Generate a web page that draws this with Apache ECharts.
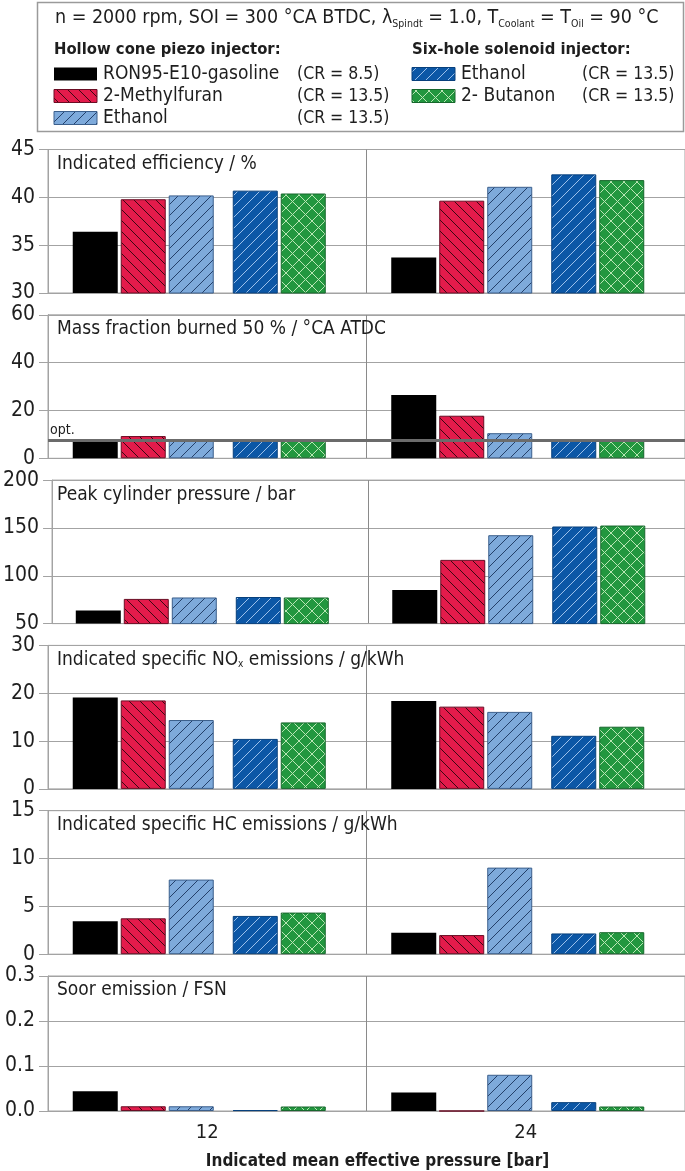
<!DOCTYPE html>
<html><head><meta charset="utf-8">
<script src="https://cdn.jsdelivr.net/npm/echarts@6/dist/echarts.min.js"></script>
<style>html,body{margin:0;padding:0;background:#fff}#c{width:685px;height:1171px}</style>
</head><body><div id="c"></div>
<script>
// ---------- data ----------
const categories = ['12', '24'];
const seriesNames = ['RON95-E10-gasoline', '2-Methylfuran', 'Ethanol', 'Ethanol', '2- Butanon'];
const compressionRatios = ['(CR = 8.5)', '(CR = 13.5)', '(CR = 13.5)', '(CR = 13.5)', '(CR = 13.5)'];
const panelTitles = [
  'Indicated efficiency / %',
  'Mass fraction burned 50 % / °CA ATDC',
  'Peak cylinder pressure / bar',
  'Indicated specific NO{sub|x} emissions / g/kWh',
  'Indicated specific HC emissions / g/kWh',
  'Soor emission / FSN'
];
// [min, max, interval] per panel
const yAxisRanges = [[30, 45, 5], [0, 60, 20], [50, 200, 50], [0, 30, 10], [0, 15, 5], [0, 0.3, 0.1]];
// each: one [12 bar, 24 bar] pair per series
const efficiency = [[36.4, 33.7], [39.8, 39.65], [40.2, 41.1], [40.7, 42.4], [40.4, 41.8]];
const mfb50 = [[7.4, 26.5], [9.3, 17.8], [7.7, 10.5], [7.3, 7.7], [7.6, 7.7]];
const mfb50Optimum = 7.5;
const peakPressure = [[63.6, 85.2], [75.8, 116.6], [77.3, 142.4], [77.8, 151.5], [77.3, 152.5]];
const noxEmissions = [[19.1, 18.4], [18.5, 17.2], [14.4, 16.1], [10.45, 11.1], [13.9, 13.0]];
const hcEmissions = [[3.45, 2.25], [3.75, 2.0], [7.8, 9.05], [4.0, 2.17], [4.35, 2.3]];
const sootEmissions = [[0.044, 0.041], [0.0105, 0], [0.0105, 0.0805], [0.002, 0.0197], [0.01, 0.01]];
const panelData = [efficiency, mfb50, peakPressure, noxEmissions, hcEmissions, sootEmissions];

// ---------- styles ----------
const FONT = '"Liberation Sans Narrow", "DejaVu Sans Condensed", "Arial Narrow", sans-serif';
const TXT = '#1e1e1e';
const GRID = '#a3a3a3';

function hatch(bg, line, dirs, s, lw) {
  const c = document.createElement('canvas');
  c.width = s; c.height = s;
  const g = c.getContext('2d');
  g.fillStyle = bg; g.fillRect(0, 0, s, s);
  g.strokeStyle = line; g.lineWidth = lw;
  dirs.forEach(d => {
    for (let k = -1; k <= 1; k++) {
      g.beginPath();
      if (d === '/') { g.moveTo(k * s, s); g.lineTo(k * s + s, 0); }
      else { g.moveTo(k * s, 0); g.lineTo(k * s + s, s); }
      g.stroke();
    }
  });
  return { image: c, repeat: 'repeat' };
}
const fills = [
  '#000000',
  hatch('#e31b4b', '#3a0812', ['\\'], 11, 1),
  hatch('#7eaadb', '#24406a', ['/'], 11, 1),
  hatch('#0c57a6', '#9cc0ea', ['/'], 11, 1),
  hatch('#22973f', '#b9e6b4', ['/', '\\'], 13, 1)
];
const borders = ['#000000', '#6a0d24', '#3b5f8c', '#08407c', '#17672c'];

// ---------- layout ----------
const GL = 48, GW = 637.5, PT0 = 149.5, PSTEP = 165.3, PH = 143.5;
const grids = [], xAxes = [], yAxes = [], series = [], graphics = [];

panelData.forEach((data, i) => {
  const top = PT0 + PSTEP * i;
  const last = i === panelData.length - 1;
  const [mn, mx, iv] = yAxisRanges[i];
  grids.push({ left: GL, top: top, width: GW, height: PH, show: true, borderColor: GRID, borderWidth: 1, backgroundColor: 'transparent' });
  xAxes.push({
    type: 'category', gridIndex: i, data: categories,
    axisLine: { lineStyle: { color: GRID, width: 1 } },
    axisTick: { show: false },
    splitLine: { show: true, interval: 0, lineStyle: { color: '#8a8a8a', width: 1 } },
    axisLabel: { show: last, fontFamily: FONT, fontSize: 20, color: TXT, margin: 12 },
    name: last ? 'Indicated mean effective pressure [bar]' : '',
    nameLocation: 'middle', nameGap: 42,
    nameTextStyle: { fontFamily: FONT, fontSize: 17, fontWeight: 'bold', color: TXT, padding: [0, 0, 0, 22] }
  });
  yAxes.push({
    type: 'value', gridIndex: i, min: mn, max: mx, interval: iv,
    axisLine: { show: true, lineStyle: { color: GRID, width: 1 } },
    axisTick: { show: true, length: 9, lineStyle: { color: GRID } },
    splitLine: { show: true, lineStyle: { color: GRID, width: 1 } },
    axisLabel: { fontFamily: FONT, fontSize: 21, color: TXT, margin: 13,
      formatter: v => (iv < 1 ? v.toFixed(1) : String(Math.round(v))) }
  });
  data.forEach((vals, s) => {
    series.push({
      type: 'bar', xAxisIndex: i, yAxisIndex: i, name: seriesNames[s],
      data: vals, barWidth: 45, barGap: '6.67%',
      itemStyle: { color: fills[s], borderColor: borders[s], borderWidth: s === 0 ? 0 : 1 },
      silent: true, animation: false
    });
    if (s === 2) {
      series.push({ type: 'bar', xAxisIndex: i, yAxisIndex: i, data: ['-', '-'], barWidth: 15, barGap: '6.67%', silent: true });
    }
  });
  series.push({ type: 'bar', xAxisIndex: i, yAxisIndex: i, data: ['-', '-'], barWidth: 13, barGap: '6.67%', silent: true,
    markLine: i === 1 ? {
      silent: true, symbol: 'none', animation: false,
      lineStyle: { color: '#6b6b6b', width: 3, type: 'solid' },
      label: { show: true, position: 'insideStartTop', formatter: 'opt.', fontFamily: FONT, fontSize: 14, color: TXT, distance: [2, 3] },
      data: [{ yAxis: mfb50Optimum }]
    } : undefined
  });
  graphics.push({
    type: 'text', left: 57, top: top + 5, z: 10,
    style: { text: panelTitles[i], font: '19px ' + FONT, fill: TXT,
      rich: { sub: { fontSize: 10, fontFamily: FONT, fill: TXT, verticalAlign: 'bottom', lineHeight: 10 } } }
  });
});

// ---------- legend (header box) ----------
const LEG_ROW = [74, 96, 118];
graphics.push({ type: 'rect', shape: { x: 37.5, y: 2.5, width: 646, height: 129 }, style: { fill: '#fff', stroke: '#9a9a9a', lineWidth: 1.5 }, z: 1 });
graphics.push({
  type: 'text', x: 55, y: 5, z: 5,
  style: {
    text: 'n = 2000 rpm, SOI = 300 °CA BTDC, λ{sub|Spindt} = 1.0, T{sub|Coolant} = T{sub|Oil} = 90 °C',
    font: '19.5px ' + FONT, fill: TXT, lineHeight: 25,
    rich: { sub: { fontSize: 10.5, fontFamily: FONT, fill: TXT, verticalAlign: 'bottom', lineHeight: 10 } }
  }
});
graphics.push({ type: 'text', x: 54, y: 50, z: 5, style: { text: 'Hollow cone piezo injector:', font: 'bold 16.5px ' + FONT, fill: TXT, verticalAlign: 'middle' } });
graphics.push({ type: 'text', x: 412, y: 50, z: 5, style: { text: 'Six-hole solenoid injector:', font: 'bold 16.5px ' + FONT, fill: TXT, verticalAlign: 'middle' } });
seriesNames.forEach((nm, s) => {
  const right = s >= 3;
  const y = LEG_ROW[right ? s - 3 : s];
  const sx = right ? 412 : 54;
  graphics.push({ type: 'rect', z: 5, shape: { x: sx, y: y - 6.5, width: 43, height: 13 }, style: { fill: fills[s], stroke: s === 0 ? null : borders[s], lineWidth: 1 } });
  graphics.push({ type: 'text', z: 5, x: sx + 49, y: y, style: { text: nm, font: '19px ' + FONT, fill: TXT, verticalAlign: 'middle' } });
  graphics.push({ type: 'text', z: 5, x: right ? 582 : 297, y: y, style: { text: compressionRatios[s], font: '17.5px ' + FONT, fill: TXT, verticalAlign: 'middle' } });
});

const chart = echarts.init(document.getElementById('c'), null, { renderer: 'canvas' });
chart.setOption({
  animation: false,
  backgroundColor: '#ffffff',
  textStyle: { fontFamily: FONT },
  grid: grids, xAxis: xAxes, yAxis: yAxes, series: series,
  graphic: { elements: graphics }
});
</script></body></html>
